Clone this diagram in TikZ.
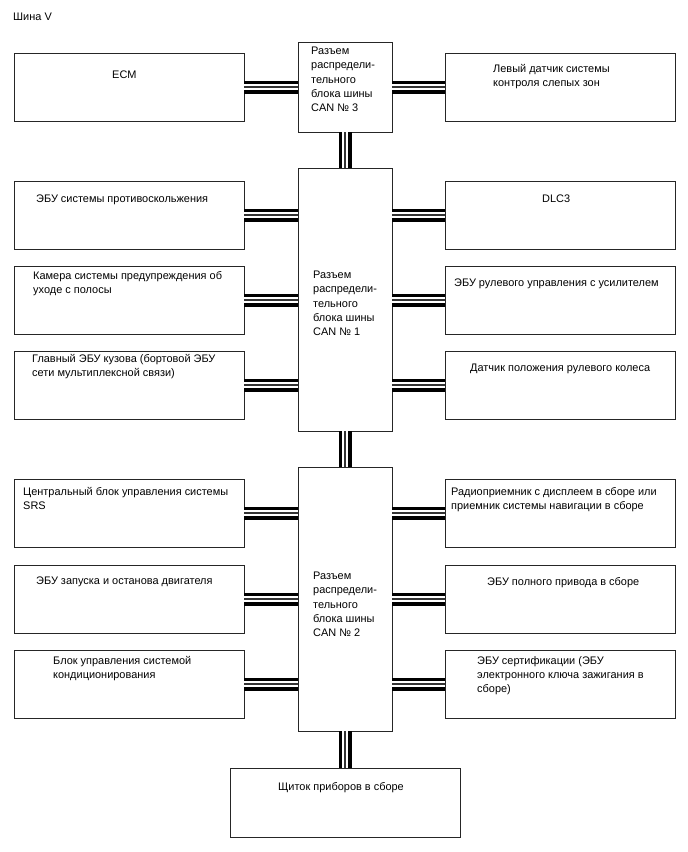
\documentclass[tikz,border=0pt]{standalone}
\usepackage{fontspec}
\setmainfont{Liberation Sans}
\begin{document}
\begin{tikzpicture}[x=1pt,y=-1pt,
  box/.style={draw=black!85,line width=1pt,rectangle,inner sep=0pt,outer sep=0pt,anchor=north west},
  side/.style={box,minimum width=230,minimum height=68},
  hub/.style={box,minimum width=94},
  lbl/.style={anchor=north west,inner sep=0pt,align=left,font=\fontsize{10.95}{14.2}\selectfont},
  bus/.style={draw=white,line width=6.2pt,preaction={draw=black,line width=13pt},postaction={draw=black!80,line width=1.2pt}}]
\useasboundingbox (0,0) rectangle (688,852);
\node[lbl] (title) at (13,12.5) {Шина V};
% side boxes
\node[side] (l1) at (14,53) {};
\node[side] (l2) at (14,181) {};
\node[side] (l3) at (14,266) {};
\node[side] (l4) at (14,351) {};
\node[side] (l5) at (14,479) {};
\node[side] (l6) at (14,565) {};
\node[side] (l7) at (14,650) {};
\node[side] (r1) at (445,53) {};
\node[side] (r2) at (445,181) {};
\node[side] (r3) at (445,266) {};
\node[side] (r4) at (445,351) {};
\node[side] (r5) at (445,479) {};
\node[side] (r6) at (445,565) {};
\node[side] (r7) at (445,650) {};
% hubs
\node[hub,minimum height=90] (c3) at (298,42) {};
\node[hub,minimum height=263] (c1) at (298,168) {};
\node[hub,minimum height=264] (c2) at (298,467) {};
\node[box,minimum width=230,minimum height=69] (ip) at (230,768) {};
% buses
\draw[bus] (c3.south) -- (c1.north);
\draw[bus] (c1.south) -- (c2.north);
\draw[bus] (c2.south) -- (ip.north);
\draw[bus] (l1.east) -- (l1.east -| c3.west);
\draw[bus] (r1.west) -- (r1.west -| c3.east);
\foreach \i in {2,3,4} {
  \draw[bus] (l\i.east) -- (l\i.east -| c1.west);
  \draw[bus] (r\i.west) -- (r\i.west -| c1.east);
}
\foreach \i in {5,6,7} {
  \draw[bus] (l\i.east) -- (l\i.east -| c2.west);
  \draw[bus] (r\i.west) -- (r\i.west -| c2.east);
}
% labels
\node[lbl] (tl1) at (112,70.5) {ECM};
\node[lbl] (tr1) at (493,64) {Левый датчик системы\\контроля слепых зон};
\node[lbl] (tc3) at (311,47) {Разъем\\распредели-\\тельного\\блока шины\\CAN № 3};
\node[lbl] (tl2) at (36,195) {ЭБУ системы противоскольжения};
\node[lbl] (tr2) at (542,195) {DLC3};
\node[lbl] (tl3) at (33,271) {Камера системы предупреждения об\\уходе с полосы};
\node[lbl] (tr3) at (454,279) {ЭБУ рулевого управления с усилителем};
\node[lbl] (tc1) at (313,271) {Разъем\\распредели-\\тельного\\блока шины\\CAN № 1};
\node[lbl] (tl4) at (32,354) {Главный ЭБУ кузова (бортовой ЭБУ\\сети мультиплексной связи)};
\node[lbl] (tr4) at (470,364) {Датчик положения рулевого колеса};
\node[lbl] (tl5) at (23,487) {Центральный блок управления системы\\SRS};
\node[lbl] (tr5) at (451,487) {Радиоприемник с дисплеем в сборе или\\приемник системы навигации в сборе};
\node[lbl] (tl6) at (36,577) {ЭБУ запуска и останова двигателя};
\node[lbl] (tr6) at (487,577) {ЭБУ полного привода в сборе};
\node[lbl] (tc2) at (313,572) {Разъем\\распредели-\\тельного\\блока шины\\CAN № 2};
\node[lbl] (tl7) at (53,656) {Блок управления системой\\кондиционирования};
\node[lbl] (tr7) at (477,656) {ЭБУ сертификации (ЭБУ\\электронного ключа зажигания в\\сборе)};
\node[lbl] (tip) at (278,782) {Щиток приборов в сборе};
\end{tikzpicture}
\end{document}
